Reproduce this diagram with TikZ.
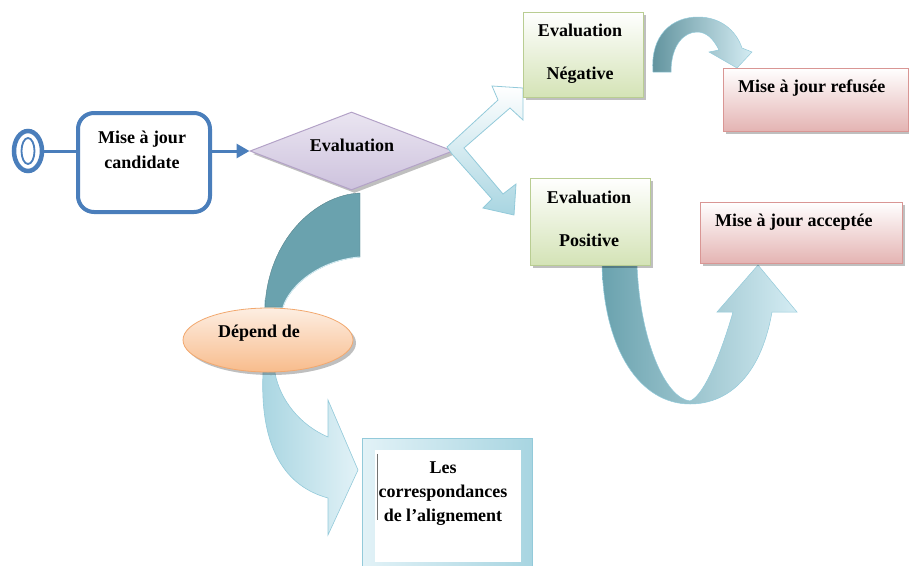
\documentclass[tikz,border=0pt]{standalone}
\usepackage{fontspec}
\setmainfont{Liberation Serif}
\usetikzlibrary{shapes.geometric,arrows.meta,shadows}

\definecolor{bpmnblue}{HTML}{4A7EBB}
\definecolor{lavtop}{HTML}{EAE5F1}
\definecolor{lavbot}{HTML}{CDC2DD}
\definecolor{lavedge}{HTML}{B3A2C7}
\definecolor{greenfill}{HTML}{D4E3B6}
\definecolor{greenedge}{HTML}{B9CD92}
\definecolor{pinkfill}{HTML}{E4B4B3}
\definecolor{pinkedge}{HTML}{D99694}
\definecolor{peachtop}{HTML}{FDEEE2}
\definecolor{peachbot}{HTML}{F8BC8C}
\definecolor{peachedge}{HTML}{F2A86E}
\definecolor{tealdark}{HTML}{6AA2AE}
\definecolor{teallight}{HTML}{D4ECF3}
\definecolor{skyedge}{HTML}{93CADA}
\definecolor{skyfill}{HTML}{A8D5E1}
\definecolor{skypale}{HTML}{E2F2F7}

\begin{document}
\begin{tikzpicture}[x=1pt,y=-1pt,
  font=\bfseries\fontsize{18}{22}\selectfont,
  softshadow/.style={drop shadow={shadow xshift=3pt,shadow yshift=-3pt,opacity=0.25,fill=black}},
  txt/.style={inner sep=0pt},
  greenbox/.style={rectangle,draw=greenedge,line width=0.8pt,top color=white,bottom color=greenfill,
    minimum width=120pt,inner sep=0pt,softshadow},
  pinkbox/.style={rectangle,draw=pinkedge,line width=0.8pt,top color=white,bottom color=pinkfill,
    inner sep=0pt,softshadow},
  bandedge/.style={draw=skyedge,line width=0.6pt},
]
\useasboundingbox (0,0) rectangle (909,565);

% --- curved arrow from the decision down to the alignment box ---
\path[bandedge,left color=skyfill,right color=skypale]
  (265,300) -- (263,373) .. controls (260,440) and (280,485) .. (328,498)
  -- (328,535) -- (358,470) -- (328,400) -- (328,437)
  .. controls (300,425) and (280,400) .. (275,373) -- (283,300) -- cycle;
\path[fill=tealdark,draw=tealdark!80!black,line width=0.4pt]
  (360,193) .. controls (315,195) and (268,240) .. (265,307) -- (283,307)
  .. controls (290,285) and (320,260) .. (360,257) -- cycle;
\draw[teallight,line width=1pt] (283,307) .. controls (290,285) and (320,260) .. (360,257);

% --- start event and task ---
\node[ellipse,draw=bpmnblue,line width=4.5pt,minimum width=28pt,minimum height=40pt,inner sep=0pt] (start) at (28,151) {};
\node[ellipse,draw=bpmnblue,line width=1.8pt,minimum width=13pt,minimum height=26pt,inner sep=0pt] (startin) at (start.center) {};
\node[rectangle,draw=bpmnblue,line width=4pt,rounded corners=16pt,fill=white,
  minimum width=132pt,minimum height=99pt,inner sep=0pt] (cand) at (144,162.5) {};
\node[txt,align=center,font=\bfseries\fontsize{18}{25}\selectfont] (candtxt) at (142,150) {Mise à jour\\candidate};

% --- decision ---
\node[diamond,aspect=2.6,inner sep=0pt,minimum width=203pt,minimum height=78pt,
  draw=lavedge,line width=1pt,top color=lavtop,bottom color=lavbot,softshadow] (eval) at (351.5,151) {};
\node[txt] (evaltxt) at (352,145) {Evaluation};

\draw[bpmnblue,line width=3pt] (start.east) -- (start.east -| cand.west);
\draw[bpmnblue,line width=3pt,-{Triangle[length=13pt,width=14pt]}] (cand.east |- eval.west) -- (eval.west);

% --- dependency ellipse ---
\node[ellipse,draw=peachedge,line width=0.8pt,top color=peachtop,bottom color=peachbot,
  minimum width=170pt,minimum height=64pt,inner sep=0pt,softshadow] (dep) at (268,340) {};
\node[txt] (deptxt) at (259,333) {Dépend de};

% --- alignment box ---
\node[rectangle,draw=skyedge,line width=0.6pt,left color=skypale,right color=skyfill,
  minimum width=170pt,minimum height=132pt,inner sep=0pt] (corr) at (447,504) {};
\node[rectangle,fill=white,minimum width=146pt,minimum height=112pt,inner sep=0pt] (corrin) at (448,506) {};
\draw[black!55,line width=0.6pt] (corrin.north west) ++(2,4) -- ++(0,66);
\node[txt,align=center,font=\bfseries\fontsize{18}{24}\selectfont] (corrtxt) at (443,494)
  {Les\\correspondances\\de l'alignement};

% --- two-way split arrow ---
\path[draw=skyedge,line width=0.8pt,top color=white,bottom color=skyfill]
  (447,147) -- (498,100) -- (492,86) -- (523,88) -- (523,120) -- (510,108)
  -- (464,148) -- (503,194) -- (516,184) -- (514,215) -- (483,208) -- (492,199)
  -- (452,154) -- cycle;

% --- negative branch ---
\path[left color=tealdark!90!black,right color=teallight,draw=skyedge,line width=0.5pt]
  (653,72) .. controls (650,35) and (672,17) .. (698,17)
  .. controls (720,17) and (736,30) .. (742,48)
  -- (752,52) -- (737,68) -- (709,52) -- (719,50)
  .. controls (713,38) and (706,32) .. (697,32)
  .. controls (684,32) and (671,45) .. (671,72) -- cycle;
\node[greenbox,minimum height=85pt] (neg) at (583,54.5) {};
\node[txt,align=center,font=\bfseries\fontsize{18}{43}\selectfont] (negtxt) at (580,53.5) {Evaluation\\Négative};
\node[pinkbox,minimum width=185pt,minimum height=63pt] (refused) at (815.5,99.5) {};
\node[txt,anchor=west] (refusedtxt) at (738,88) {Mise à jour refusée};

% --- positive branch ---
\path[left color=tealdark,right color=teallight,draw=skyedge,line width=0.5pt]
  (602,265) .. controls (604,350) and (640,404) .. (690,404)
  .. controls (725,404) and (760,380) .. (772,312)
  -- (797,312) -- (758,265) -- (717,312) -- (733,312)
  .. controls (722,350) and (705,395) .. (690,401)
  .. controls (665,398) and (640,340) .. (637,265) -- cycle;
\node[greenbox,minimum height=87pt] (pos) at (590,221.5) {};
\node[txt,align=center,font=\bfseries\fontsize{18}{43}\selectfont] (postxt) at (589,218.5) {Evaluation\\Positive};
\node[pinkbox,minimum width=202pt,minimum height=61pt] (accepted) at (801,232.5) {};
\node[txt,anchor=west] (acceptedtxt) at (715,222) {Mise à jour acceptée};

\end{tikzpicture}
\end{document}
